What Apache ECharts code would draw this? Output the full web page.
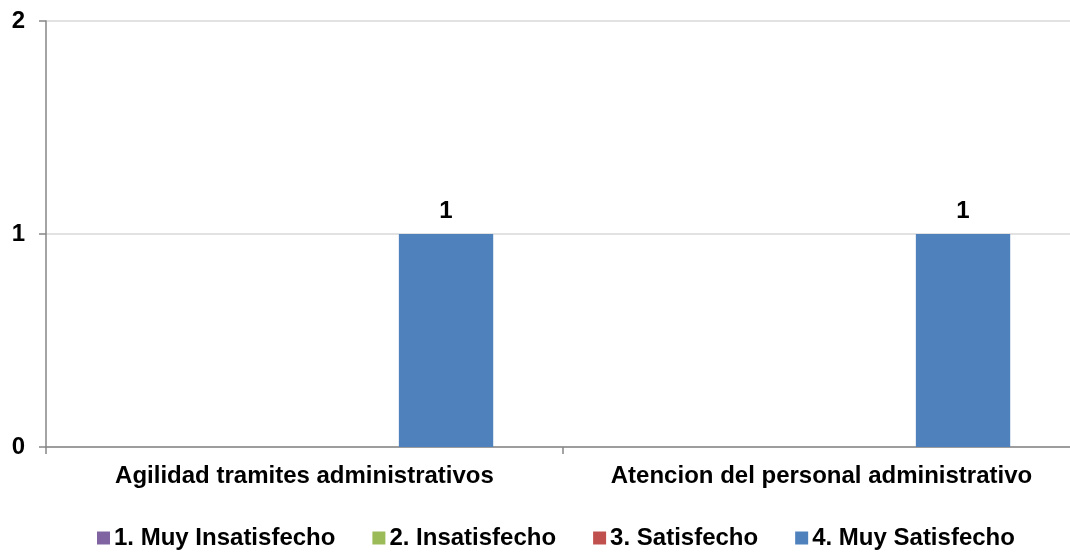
<!DOCTYPE html>
<html>
<head>
<meta charset="utf-8">
<script src="https://cdn.jsdelivr.net/npm/echarts@6/dist/echarts.min.js"></script>
<style>html,body{margin:0;padding:0;background:#fff;overflow:hidden;}#c{width:1070px;height:557px;}</style>
</head>
<body>
<div id="c"></div>
<script>
const categories = ['Agilidad tramites administrativos', 'Atencion del personal administrativo'];
const seriesNames = ['1. Muy Insatisfecho', '2. Insatisfecho', '3. Satisfecho', '4. Muy Satisfecho'];
const muyInsatisfecho = [0, 0];
const insatisfecho = [0, 0];
const satisfecho = [0, 0];
const muySatisfecho = [1, 1];
const yTicks = [0, 1, 2];

const colors = ['#8064A2', '#9BBB59', '#C0504D', '#4F81BD'];
const dataSets = [muyInsatisfecho, insatisfecho, satisfecho, muySatisfecho];
const font = 'Liberation Sans, Arial, sans-serif';

const chart = echarts.init(document.getElementById('c'));
chart.setOption({
  animation: false,
  color: colors,
  grid: { left: 46, width: 1034, top: 21, bottom: 110, containLabel: false, outerBoundsMode: 'none' },
  legend: {
    data: seriesNames,
    top: 521,
    left: 92,
    icon: 'rect',
    itemWidth: 13,
    itemHeight: 13,
    itemGap: 37,
    textStyle: { fontFamily: font, fontWeight: 'bold', fontSize: 24, color: '#000', padding: [0, 0, 0, -1] }
  },
  xAxis: {
    type: 'category',
    data: categories,
    axisLine: { lineStyle: { color: '#868686', width: 1.5 } },
    axisTick: { show: true, length: 7, lineStyle: { color: '#868686', width: 1.5 } },
    axisLabel: { interval: 0, hideOverlap: false, margin: 17, fontFamily: font, fontWeight: 'bold', fontSize: 24, color: '#000' }
  },
  yAxis: {
    type: 'value',
    min: yTicks[0],
    max: yTicks[yTicks.length - 1],
    interval: 1,
    axisLine: { show: true, lineStyle: { color: '#868686', width: 1.5 } },
    axisTick: { show: true, length: 7, lineStyle: { color: '#868686', width: 1.5 } },
    splitLine: { lineStyle: { color: '#D9D9D9', width: 1.5 } },
    axisLabel: { margin: 21, fontFamily: font, fontWeight: 'bold', fontSize: 24, color: '#000' }
  },
  series: seriesNames.map((name, i) => ({
    name: name,
    type: 'bar',
    data: dataSets[i],
    barGap: '0%',
    barCategoryGap: '27%',
    label: {
      show: i === 3,
      position: 'top',
      distance: 11,
      fontFamily: font,
      fontWeight: 'bold',
      fontSize: 24,
      color: '#000'
    }
  }))
});
</script>
</body>
</html>
